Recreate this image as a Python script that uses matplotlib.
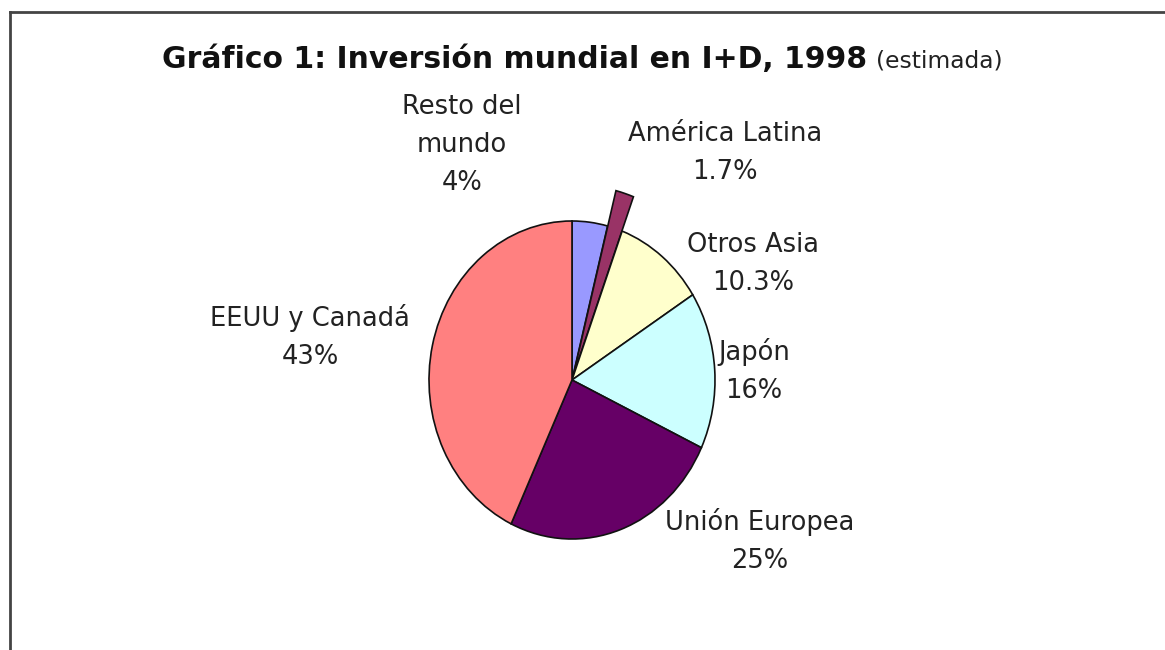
import matplotlib
matplotlib.use("Agg")
import matplotlib.pyplot as plt
from matplotlib.lines import Line2D

# Data
labels = ["Resto del\nmundo", "América Latina", "Otros Asia", "Japón", "Unión Europea", "EEUU y Canadá"]
values = [4, 1.7, 10.3, 16, 25, 43]
pct_labels = ["4%", "1.7%", "10.3%", "16%", "25%", "43%"]
colors = ["#9999FF", "#993366", "#FFFFCC", "#CCFFFF", "#660066", "#FF8080"]
explode = [0, 0.03, 0, 0, 0, 0]

W, H = 1165, 650
fig = plt.figure(figsize=(W / 100, H / 100), dpi=100)
fig.patch.set_facecolor("white")

# pie geometry in pixels
cx, cy = 572, 380
rx, ry = 143, 159

ax = fig.add_axes([0, 0, 1, 1])
wedges, _ = ax.pie(values, colors=colors, startangle=90, counterclock=False, explode=explode,
                   radius=1.0, wedgeprops=dict(edgecolor="#111111", linewidth=1.2), normalize=True)
# the small "América Latina" slice sticks out beyond the pie
wedges[1].set_radius(1.2)
ax.set_xlim(-cx / rx, (W - cx) / rx)
ax.set_ylim(-(H - cy) / ry, cy / ry)
ax.set_aspect("auto")
ax.axis("off")

def px(x, y):
    return x / W, 1 - y / H

font = "DejaVu Sans"
lab_pos = [(462, 145), (725, 153), (753, 264), (754, 371), (760, 541), (310, 337)]
for lab, pct, (x, y) in zip(labels, pct_labels, lab_pos):
    fx, fy = px(x, y)
    fig.text(fx, fy, lab + "\n" + pct, ha="center", va="center", fontsize=18.5,
             family=font, color="#222222", linespacing=1.6)

# Title
tx, ty = px(162, 68)
t1 = fig.text(tx, ty, "Gráfico 1: Inversión mundial en I+D, 1998", ha="left", va="baseline",
              fontsize=21.5, fontweight="bold", family=font, color="#111111")
fig.canvas.draw()
bb = t1.get_window_extent(fig.canvas.get_renderer())
fig.text((bb.x1 + 9) / W, ty, "(estimada)", ha="left", va="baseline",
         fontsize=16.8, family=font, color="#222222")

# Frame lines (top and left)
fig.add_artist(Line2D([10 / W, 1], [1 - 12 / H, 1 - 12 / H], color="#444444", linewidth=2,
                      transform=fig.transFigure))
fig.add_artist(Line2D([10 / W, 10 / W], [0, 1 - 12 / H], color="#444444", linewidth=2,
                      transform=fig.transFigure))

fig.savefig("out.png", dpi=100)
